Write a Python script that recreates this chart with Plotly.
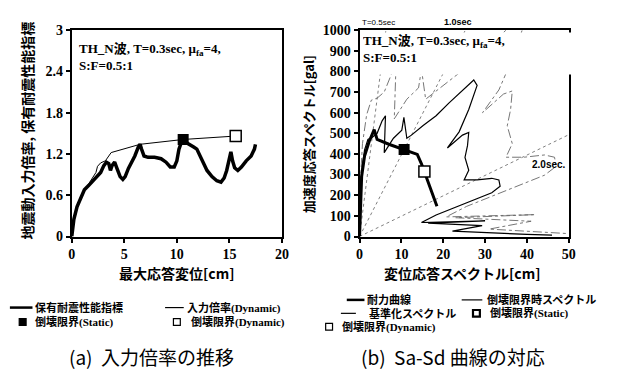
import plotly.graph_objects as go

W, H = 617, 378

# ---------------- (a) input magnification vs. max response displacement ----------------
perf_x = [0, 0.2, 0.5, 0.9, 1.2, 1.6, 2.0, 2.4, 2.75, 3.05, 3.3, 3.52, 3.68, 3.83, 4.08, 4.3,
          4.6, 4.86, 5.08, 5.39, 5.7, 6.0, 6.33, 6.5, 6.64, 6.88, 7.26, 7.88, 8.5, 8.97, 9.37,
          9.75, 10.0, 10.2, 10.5, 10.75, 11.15, 11.6, 11.9, 12.2, 12.55, 12.87, 13.34, 13.8,
          14.2, 14.5, 14.74, 14.98, 15.14, 15.3, 15.5, 15.8, 16.14, 16.6, 17.07, 17.38, 17.48]
perf_y = [0, 0.25, 0.43, 0.58, 0.68, 0.74, 0.8, 0.87, 0.93, 1.03, 1.08, 1.06, 0.96, 1.03, 1.08,
          0.99, 0.87, 0.83, 0.87, 0.99, 1.08, 1.17, 1.30, 1.34, 1.27, 1.17, 1.15, 1.15, 1.13,
          1.08, 1.01, 1.01, 1.10, 1.27, 1.40, 1.38, 1.34, 1.30, 1.27, 1.17, 1.08, 0.96, 0.87,
          0.81, 0.79, 0.85, 0.96, 1.13, 1.23, 1.10, 1.00, 0.96, 1.01, 1.10, 1.17, 1.27, 1.34]

dyn_x = [0, 0.25, 0.5, 1.0, 1.5, 2.0, 2.3, 2.45, 2.75, 3.2, 3.75, 6.5, 10.6, 15.6]
dyn_y = [0, 0.27, 0.44, 0.62, 0.74, 0.85, 0.93, 1.02, 1.07, 1.10, 1.22, 1.34, 1.41, 1.46]

a_static_x, a_static_y = [10.6], [1.41]
a_dynamic_x, a_dynamic_y = [15.6], [1.46]

a_xticks = [0, 5, 10, 15, 20]
a_yticks = [0, 0.6, 1.2, 1.8, 2.4, 3]
a_yticktext = ["0", "0.6", "1.2", "1.8", "2.4", "3"]

# ---------------- (b) Sa-Sd curves ----------------
cap_sd = [0, 0.25, 0.5, 1.2, 2.3, 3.5, 4.2, 7.0, 10.6, 13.8, 14.8, 15.5, 18.5]
cap_sa = [0, 150, 290, 390, 460, 518, 470, 447, 420, 398, 352, 315, 147]

coll_sd = [0.1, 0.5, 1.2, 2.0, 3.0, 4.2, 5.4, 6.2, 5.9, 8.1, 10.1, 10.6, 11.3, 12.4, 15.2, 18.3,
           21.4, 24.6, 27.3, 28.1, 26.1, 23.8, 21.0, 24.6, 26.1, 25.8, 25.2, 26.1, 25.0, 28.1,
           31.6, 33.3, 33.6, 31.6, 27.7, 23.0, 18.3, 14.8, 30.0, 16.4, 29.3, 22.2, 30.0, 40.0, 46.0]
coll_sa = [180, 320, 420, 470, 480, 500, 560, 585, 406, 476, 515, 577, 476, 491, 538, 585,
           647, 708, 758, 732, 615, 507, 429, 491, 504, 440, 383, 321, 274, 274,
           282, 274, 243, 212, 181, 143, 104, 68, 76, 65, 53, 26, 18, 10, 7]

norm_sd = [0.15, 0.7, 1.7, 2.8, 4.2, 5.9, 7.6, 8.7, 8.3, 11.3, 14.1, 14.8, 15.8, 17.4, 21.3,
           25.6, 30.0, 34.4, 38.2, 39.3, 36.5, 33.3, 29.4, 34.4, 36.5, 36.1, 35.3, 36.5, 35.0,
           39.3, 44.2, 46.6, 47.0, 44.2, 38.8, 32.2, 25.6, 20.7, 42.0, 23.0, 41.0, 31.0, 42.0, 50.0]
norm_sa = [250, 450, 590, 660, 670, 700, 785, 820, 570, 665, 720, 810, 665, 690, 750,
           820, 905, 990, 1060, 1025, 860, 710, 600, 690, 705, 615, 536, 450, 384,
           384, 395, 384, 340, 297, 253, 200, 146, 95, 106, 91, 74, 36, 25, 14]

# constant-period lines (end points)
period_lines = {
    "0.5": ([0, 6.3], [0, 1000]),
    "1.0": ([0, 25.3], [0, 1000]),
    "2.0": ([0, 50], [0, 493]),
}

b_static_x, b_static_y = [10.65], [421]
b_dynamic_x, b_dynamic_y = [15.5], [315]

b_xticks = [0, 10, 20, 30, 40, 50]
b_yticks = [0, 100, 200, 300, 400, 500, 600, 700, 800, 900, 1000]

SERIF = "Liberation Serif, Noto Sans CJK JP"
CJK = "Noto Sans CJK JP"


def px(x):
    return x / W


def py(y):
    return 1 - y / H


fig = go.Figure()

# (a)
fig.add_trace(go.Scatter(x=perf_x, y=perf_y, mode="lines", xaxis="x", yaxis="y",
                         line=dict(color="black", width=3.5), showlegend=False))
fig.add_trace(go.Scatter(x=dyn_x, y=dyn_y, mode="lines", xaxis="x", yaxis="y",
                         line=dict(color="black", width=1), showlegend=False))
fig.add_trace(go.Scatter(x=a_static_x, y=a_static_y, mode="markers", xaxis="x", yaxis="y",
                         marker=dict(symbol="square", size=11, color="black"), showlegend=False))
fig.add_trace(go.Scatter(x=a_dynamic_x, y=a_dynamic_y, mode="markers", xaxis="x", yaxis="y",
                         marker=dict(symbol="square", size=11, color="white",
                                     line=dict(color="black", width=1.5)), showlegend=False))

# (b)
for key, (lx, ly) in period_lines.items():
    fig.add_trace(go.Scatter(x=lx, y=ly, mode="lines", xaxis="x2", yaxis="y2",
                             line=dict(color="#808080", width=1, dash="dot"), showlegend=False))
fig.add_trace(go.Scatter(x=norm_sd, y=norm_sa, mode="lines", xaxis="x2", yaxis="y2",
                         line=dict(color="#666666", width=0.9, dash="dashdot"), showlegend=False))
fig.add_trace(go.Scatter(x=coll_sd, y=coll_sa, mode="lines", xaxis="x2", yaxis="y2",
                         line=dict(color="black", width=1.2), showlegend=False))
fig.add_trace(go.Scatter(x=cap_sd, y=cap_sa, mode="lines", xaxis="x2", yaxis="y2",
                         line=dict(color="black", width=3), showlegend=False))
fig.add_trace(go.Scatter(x=b_static_x, y=b_static_y, mode="markers", xaxis="x2", yaxis="y2",
                         marker=dict(symbol="square", size=11, color="black"), showlegend=False))
fig.add_trace(go.Scatter(x=b_dynamic_x, y=b_dynamic_y, mode="markers", xaxis="x2", yaxis="y2",
                         marker=dict(symbol="square", size=11, color="white",
                                     line=dict(color="black", width=1.5)), showlegend=False))

axis_common = dict(showline=True, linecolor="black", linewidth=2, mirror=True,
                   showgrid=False, zeroline=False, ticks="outside", ticklen=4,
                   tickwidth=1.5, tickcolor="black",
                   tickfont=dict(family="Liberation Serif", size=14, color="black", weight="bold"))

fig.update_layout(
    width=W, height=H, autosize=False,
    margin=dict(l=0, r=0, t=0, b=0),
    paper_bgcolor="white", plot_bgcolor="white",
    xaxis=dict(domain=[px(69), px(283)], range=[0, 20], tickvals=a_xticks, anchor="y",
               **axis_common),
    yaxis=dict(domain=[py(239), py(24)], range=[0, 3], tickvals=a_yticks,
               ticktext=a_yticktext, anchor="x", **axis_common),
    xaxis2=dict(domain=[px(362), px(575)], range=[0, 50], tickvals=b_xticks, anchor="y2",
                **axis_common),
    yaxis2=dict(domain=[py(239), py(24)], range=[0, 1000], tickvals=b_yticks, anchor="x2",
                **axis_common),
)

ann = []


def note(text, x, y, font, xanchor="center", yanchor="middle", **kw):
    ann.append(dict(text=text, xref="paper", yref="paper", x=px(x), y=py(y),
                    xanchor=xanchor, yanchor=yanchor, showarrow=False, font=font, **kw))


label = "<b>TH_N波, T=0.3sec, μ<sub>fa</sub>=4,<br>S:F=0.5:1</b>"
note(label, 74, 33, dict(family=SERIF, size=13, color="black"),
     xanchor="left", yanchor="top", align="left")
note(label, 364, 26, dict(family=SERIF, size=13, color="black"),
     xanchor="left", yanchor="top", align="left", valign="top",
     width=208, height=41, bgcolor="white", borderpad=0)

# axis titles
note("地震動入力倍率, 保有耐震性能指標", 23, 129,
     dict(family=CJK, size=14, color="black", weight="bold"), textangle=-90)
note("加速度応答スペクトル[gal]", 310, 132,
     dict(family=CJK, size=13, color="black", weight="bold"), textangle=-90)
note("最大応答変位[cm]", 176, 277, dict(family=CJK, size=14, color="black", weight="bold"))
note("変位応答スペクトル[cm]", 466, 277, dict(family=CJK, size=14, color="black", weight="bold"))

# period labels
note("T=0.5sec", 362, 16, dict(family="Liberation Sans", size=8, color="black"),
     xanchor="left")
note("<b>1.0sec</b>", 462, 16, dict(family="Liberation Sans", size=9, color="black"))
note("<b>2.0sec.</b>", 574, 164, dict(family="Liberation Sans", size=10, color="black"),
     xanchor="right")

# legend entries (drawn below each panel)
shapes = []
LEG = dict(family=SERIF, size=11, color="black", weight="bold")


def leg_line(x0, x1, y, width, dash="solid"):
    shapes.append(dict(type="line", xref="paper", yref="paper", x0=px(x0), x1=px(x1),
                       y0=py(y), y1=py(y), line=dict(color="black", width=width, dash=dash)))


def leg_box(xc, y, filled, lw=1.2):
    s = 3.5
    shapes.append(dict(type="rect", xref="paper", yref="paper", x0=px(xc - s), x1=px(xc + s),
                       y0=py(y + s), y1=py(y - s),
                       fillcolor="black" if filled else "white",
                       line=dict(color="black", width=lw)))


def leg_text(x, y, t):
    note(t, x, y, LEG, xanchor="left")


leg_line(6, 29, 313, 2.5)
leg_text(30, 313, "保有耐震性能指標")
leg_line(164, 183, 313, 1.2)
leg_text(184, 313, "入力倍率(Dynamic)")
leg_box(19, 328, True)
leg_text(30, 328, "倒壊限界(Static)")
leg_box(176, 328, False)
leg_text(188, 328, "倒壊限界(Dynamic)")

leg_line(349, 367, 305, 2.5)
leg_text(368, 305, "耐力曲線")
leg_line(466, 487, 305, 1.2)
leg_text(490, 305, "倒壊限界時スペクトル")
leg_line(343, 367, 319, 1.2, "longdash")
leg_text(370, 319, "基準化スペクトル")
leg_box(481, 319, False, lw=2.2)
leg_text(493, 319, "倒壊限界(Static)")
leg_box(331, 333, False)
leg_text(342, 333, "倒壊限界(Dynamic)")

# captions
note("(a)  入力倍率の推移", 150, 364, dict(family=CJK, size=19, color="black"))
note("(b)  Sa-Sd 曲線の対応", 457, 364, dict(family=CJK, size=19, color="black"))

fig.update_layout(annotations=ann, shapes=shapes)
fig.write_html("out.html")
